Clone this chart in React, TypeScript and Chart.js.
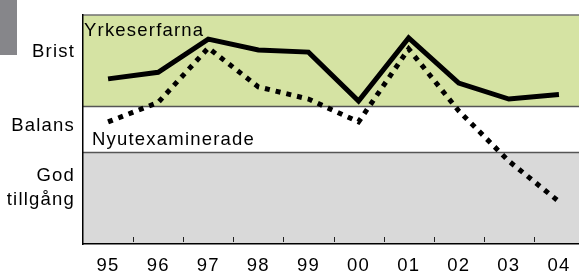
import { useEffect, useRef } from 'react';
import { Chart, registerables } from 'chart.js';

Chart.register(...registerables);

const years = ['95', '96', '97', '98', '99', '00', '01', '02', '03', '04'];
const yrkeserfarna = [72.1, 75.0, 89.5, 84.7, 83.8, 62.4, 90.0, 70.3, 63.3, 65.3];
const nyutexaminerade = [53.3, 61.8, 85.6, 68.6, 63.3, 53.3, 85.2, 58.1, 36.2, 18.5];
const levelLabels: (string | string[])[] = [['God', 'tillgång'], 'Balans', 'Brist'];
const levelTickValues = [24.5, 51.5, 84];
const bandEdges = [0, 40, 60, 100];
const bandColors = ['#d9d9d9', '#ffffff', '#d5e3a3'];
const seriesNames = ['Yrkeserfarna', 'Nyutexaminerade'];

const FONT = '"Liberation Sans", Arial, Helvetica, sans-serif';
const SPACING = '1.2px';

function zeroPadding(scale: any) {
  scale.paddingTop = 0;
  scale.paddingBottom = 0;
  scale.paddingLeft = 0;
  scale.paddingRight = 0;
}

const decorPlugin = {
  id: 'decor',
  beforeDraw(chart: any) {
    const { ctx, chartArea: ca, scales } = chart;
    const y = scales.y;
    ctx.save();
    for (let i = 0; i < bandColors.length; i++) {
      const top = y.getPixelForValue(bandEdges[i + 1]);
      const bot = y.getPixelForValue(bandEdges[i]);
      ctx.fillStyle = bandColors[i];
      ctx.fillRect(ca.left, top, ca.right - ca.left, bot - top);
    }
    ctx.lineWidth = 1.5;
    ctx.strokeStyle = '#555555';
    for (const v of [bandEdges[1], bandEdges[2]]) {
      const py = y.getPixelForValue(v);
      ctx.beginPath();
      ctx.moveTo(ca.left, py);
      ctx.lineTo(ca.right, py);
      ctx.stroke();
    }
    ctx.strokeStyle = '#707070';
    const pt = y.getPixelForValue(bandEdges[3]);
    ctx.beginPath();
    ctx.moveTo(ca.left, pt);
    ctx.lineTo(ca.right, pt);
    ctx.stroke();
    // inward tick marks between categories
    const x = scales.x;
    ctx.strokeStyle = '#222222';
    ctx.lineWidth = 1;
    for (let i = 0; i < years.length - 1; i++) {
      const px = Math.round((x.getPixelForValue(i) + x.getPixelForValue(i + 1)) / 2) + 0.5;
      ctx.beginPath();
      ctx.moveTo(px, ca.bottom - 7);
      ctx.lineTo(px, ca.bottom - 2);
      ctx.stroke();
    }
    ctx.restore();
    try {
      (ctx as any).letterSpacing = SPACING;
    } catch (e) {}
  },
  beforeDatasetsDraw(chart: any) {
    const { ctx, chartArea: ca, scales } = chart;
    const y = scales.y;
    ctx.save();
    try {
      (ctx as any).letterSpacing = SPACING;
    } catch (e) {}
    ctx.fillStyle = '#000000';
    ctx.font = `18.5px ${FONT}`;
    ctx.textAlign = 'left';
    ctx.textBaseline = 'alphabetic';
    ctx.fillText(seriesNames[0], ca.left + 1, ca.top + 21);
    ctx.fillText(seriesNames[1], ca.left + 9, y.getPixelForValue(bandEdges[1]) - 7);
    ctx.restore();
  },
  afterDraw(chart: any) {
    const { ctx } = chart;
    ctx.save();
    ctx.fillStyle = '#86868a';
    ctx.fillRect(0, 0, 17, 55);
    ctx.restore();
  },
};

export default function App() {
  const ref = useRef<HTMLCanvasElement | null>(null);

  useEffect(() => {
    document.body.style.margin = '0';
    const canvas = ref.current;
    if (!canvas) return;
    const chart = new Chart(canvas, {
      type: 'line',
      data: {
        labels: years,
        datasets: [
          {
            label: seriesNames[0],
            data: yrkeserfarna,
            borderColor: '#000000',
            borderWidth: 5,
            pointRadius: 0,
            tension: 0,
            fill: false,
            borderJoinStyle: 'miter',
            borderCapStyle: 'butt',
          },
          {
            label: seriesNames[1],
            data: nyutexaminerade,
            borderColor: '#000000',
            borderWidth: 5,
            borderDash: [5, 6],
            pointRadius: 0,
            tension: 0,
            fill: false,
            borderJoinStyle: 'miter',
            borderCapStyle: 'butt',
          },
        ],
      },
      options: {
        animation: false,
        responsive: false,
        devicePixelRatio: 1,
        layout: { padding: { top: 15, left: 0, right: 0, bottom: 0 } },
        plugins: {
          legend: { display: false },
          tooltip: { enabled: false },
          title: { display: false },
        },
        scales: {
          x: {
            type: 'category',
            offset: true,
            grid: { display: false, drawTicks: false },
            border: { display: true, color: '#000000', width: 1.5 },
            ticks: {
              color: '#000000',
              font: { family: FONT, size: 18.5 },
              padding: 11,
              maxRotation: 0,
              autoSkip: false,
            },
            afterFit(scale: any) {
              scale.height = 29;
              zeroPadding(scale);
            },
          },
          y: {
            type: 'linear',
            min: 0,
            max: 100,
            grid: { display: false, drawTicks: false },
            border: { display: true, color: '#000000', width: 1.5 },
            ticks: {
              color: '#000000',
              font: { family: FONT, size: 18.5, lineHeight: 1.35 },
              padding: 8,
              callback: (v: any) => {
                const idx = levelTickValues.indexOf(Number(v));
                return idx >= 0 ? levelLabels[idx] : '';
              },
            },
            afterBuildTicks(scale: any) {
              scale.ticks = levelTickValues.map((v) => ({ value: v }));
            },
            afterFit(scale: any) {
              scale.width = 83;
              zeroPadding(scale);
            },
          },
        },
      },
      plugins: [decorPlugin],
    } as any);
    return () => chart.destroy();
  }, []);

  return (
    <div
      style={{
        position: 'fixed',
        left: 0,
        top: 0,
        width: 579,
        height: 273,
        overflow: 'hidden',
        background: '#ffffff',
      }}
    >
      <canvas ref={ref} width={584} height={273} style={{ display: 'block', width: 584, height: 273 }} />
    </div>
  );
}
